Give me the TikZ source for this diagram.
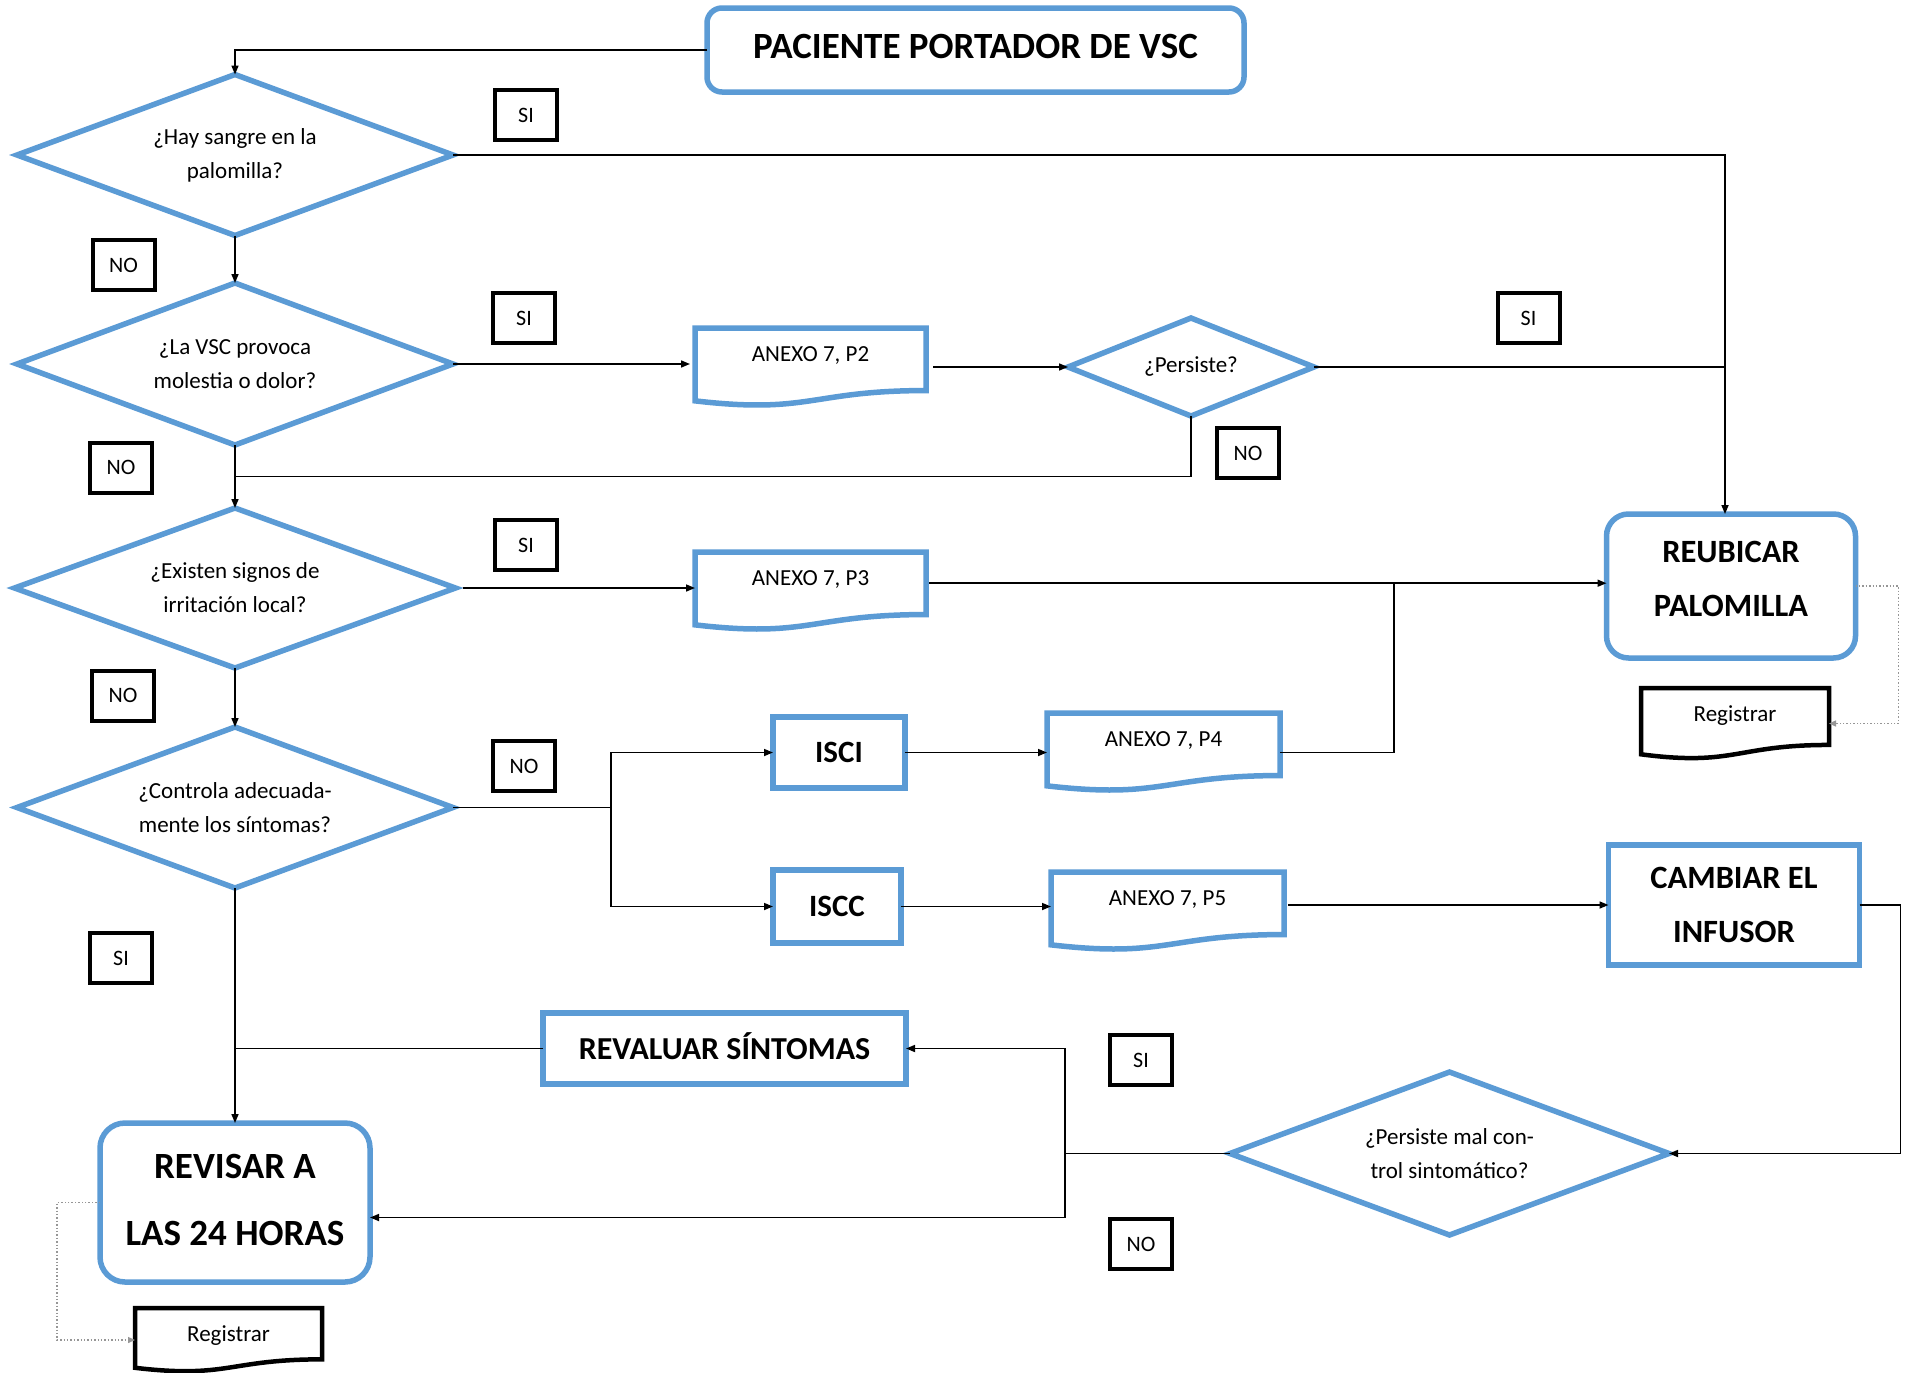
\documentclass[tikz,border=0pt]{standalone}
\usepackage{fontspec}
\setmainfont{Carlito}
\usetikzlibrary{shapes.geometric,arrows.meta,calc}
\definecolor{fblue}{RGB}{91,155,213}
\definecolor{dotgray}{RGB}{150,150,150}
\newcommand\docshape[2]{%
  \draw[#2] (#1.north west) -- (#1.north east)
    -- ($(#1.north east)!0.802!(#1.south east)$)
    .. controls ($(#1.north)!0.802!(#1.south)$) and ($(#1.north)!1.107!(#1.south)$)
    .. ($(#1.north west)!0.934!(#1.south west)$) -- cycle;}
\tikzset{
  dia/.style={shape=diamond, aspect=2.7, draw=fblue, line width=5.5pt, inner sep=0pt, outer sep=0pt,
    align=center, font=\fontsize{23}{34}\selectfont},
  pbox/.style={draw=fblue, line width=5.5pt, outer sep=0pt, inner sep=0pt, align=center,
    font=\bfseries\fontsize{32.5}{54}\selectfont},
  rbox/.style={pbox, rounded corners=22pt},
  docnode/.style={anchor=north west, inner xsep=0pt, inner ysep=0pt, outer sep=0pt,
    text height=33pt, font=\fontsize{23}{28}\selectfont},
  bluedoc/.style={draw=fblue, line width=5.5pt, line join=miter},
  blackdoc/.style={draw=black, line width=4.5pt, line join=miter},
  lbl/.style={draw=black, line width=4pt, minimum width=62pt, minimum height=50pt, inner sep=0pt,
    font=\fontsize{22}{26}\selectfont},
  conn/.style={line width=1.6pt, draw=black},
  arr/.style={conn, -{Triangle[length=9pt,width=7pt]}},
  dotarr/.style={line width=1.4pt, draw=dotgray, dotted, -{Triangle[length=7pt,width=6pt]}},
}
\begin{document}
\begin{tikzpicture}[x=1pt,y=-1pt]
\useasboundingbox[fill=white] (0,0) rectangle (1912,1373);

% main boxes
\node[rbox, rounded corners=15pt, minimum width=537pt, minimum height=84pt, text depth=8pt,
  font=\bfseries\fontsize{37}{44}\selectfont] (title) at (975.5,50) {PACIENTE PORTADOR DE VSC};
\node[rbox, minimum width=249pt, minimum height=144pt, text depth=14pt] (reub) at (1731,586) {REUBICAR\\PALOMILLA};
\node[pbox, minimum width=132pt, minimum height=71pt, font=\bfseries\fontsize{31}{36}\selectfont] (isci) at (839,752.5) {ISCI};
\node[pbox, minimum width=128pt, minimum height=73pt, font=\bfseries\fontsize{31}{36}\selectfont] (iscc) at (837,906.5) {ISCC};
\node[pbox, minimum width=251pt, minimum height=120pt] (cambiar) at (1734,905) {CAMBIAR EL\\INFUSOR};
\node[pbox, minimum width=363pt, minimum height=71pt, text depth=4pt, font=\bfseries\fontsize{32}{36}\selectfont] (reval) at (724.5,1048.5) {REVALUAR SÍNTOMAS};
\node[rbox, rounded corners=25pt, minimum width=270pt, minimum height=159pt, text depth=6pt,
  font=\bfseries\fontsize{37}{67}\selectfont] (revisar) at (235,1202.5) {REVISAR A\\LAS 24 HORAS};

% decisions
\node[dia, minimum width=436pt, minimum height=161pt] (d1) at (235,155) {¿Hay sangre en la\\palomilla?};
\node[dia, minimum width=436pt, minimum height=162pt] (d2) at (235,364) {¿La VSC provoca\\molestia o dolor?};
\node[dia, minimum width=441pt, minimum height=160pt] (d3) at (235,588) {¿Existen signos de\\irritación local?};
\node[dia, minimum width=436pt, minimum height=161pt] (d4) at (235,807.5) {¿Controla adecuada-\\mente los síntomas?};
\node[dia, aspect=2.5, minimum width=246pt, minimum height=98pt] (pers) at (1191,367) {¿Persiste?};
\node[dia, minimum width=439pt, minimum height=163pt] (d5) at (1449.5,1153.5) {¿Persiste mal con-\\trol sintomático?};

% documents
\node[docnode, minimum width=231pt, text depth=45pt] (p2) at (695,328) {ANEXO 7, P2};
\node[docnode, minimum width=231pt, text depth=45pt] (p3) at (695,552) {ANEXO 7, P3};
\node[docnode, minimum width=233pt, text depth=45pt] (p4) at (1047,713) {ANEXO 7, P4};
\node[docnode, minimum width=233pt, text depth=45pt] (p5) at (1051,872) {ANEXO 7, P5};
\node[docnode, minimum width=188pt, text depth=38pt] (reg1) at (1641,688) {Registrar};
\node[docnode, minimum width=187pt, text depth=31pt] (reg2) at (135,1308) {Registrar};
\docshape{p2}{bluedoc}
\docshape{p3}{bluedoc}
\docshape{p4}{bluedoc}
\docshape{p5}{bluedoc}
\docshape{reg1}{blackdoc}
\docshape{reg2}{blackdoc}

% answer labels
\node[lbl] (si1) at (526,115) {SI};
\node[lbl] (no1) at (123.5,265) {NO};
\node[lbl] (si2) at (524,318) {SI};
\node[lbl] (no2) at (121,467.5) {NO};
\node[lbl] (si3) at (526,545) {SI};
\node[lbl] (no3) at (123,695.5) {NO};
\node[lbl] (no4) at (524,766) {NO};
\node[lbl] (si4) at (121,958) {SI};
\node[lbl] (si5) at (1528.5,318) {SI};
\node[lbl] (no5) at (1248,453) {NO};
\node[lbl] (si6) at (1141,1060) {SI};
\node[lbl] (no6) at (1141,1244) {NO};

% connectors
\coordinate (rx) at (1725,0);
\draw[arr] (title.west) -| (d1.north);
\draw[arr] (d1.south) -- (d2.north);
\draw[arr] (d1.east) -| (rx |- reub.north);
\draw[arr, shorten >=5pt] (d2.east) -- (d2.east -| p2.west);
\draw[arr, shorten <=7pt] (pers.west -| p2.east) -- (pers.west);
\draw[conn] (pers.east) -- (rx |- pers.east);
\coordinate (m23) at ($(d2.south)!0.5!(d3.north)$);
\draw[conn] (pers.south) |- (m23);
\draw[arr] (d2.south) -- (d3.north);
\draw[arr, shorten <=7pt] (d3.east) -- (d3.east -| p3.west);
\coordinate (p3r) at ($(p3.north east)!0.4!(p3.south east)$);
\draw[arr, shorten <=3pt] (p3r) -- (p3r -| reub.west);
\coordinate (jx) at (1394,0);
\draw[conn] (isci.east -| p4.east) -| (jx |- p3r);
\draw[arr] (d3.south) -- (d4.north);
\coordinate (jy) at (611,0);
\coordinate (split) at (jy |- d4.east);
\draw[conn] (d4.east) -- (split);
\draw[arr] (split) |- (isci.west);
\draw[arr] (split) |- (iscc.west);
\draw[arr] (isci.east) -- (isci.east -| p4.west);
\draw[arr] (iscc.east) -- (iscc.east -| p5.west);
\draw[arr, shorten <=4pt] (cambiar.west -| p5.east) -- (cambiar.west);
\draw[arr] (cambiar.east) -- ++(41,0) |- (d5.east);
\coordinate (kx) at (1065,0);
\coordinate (back) at (kx |- d5.west);
\draw[conn] (d5.west) -- (back);
\draw[arr] (back) |- (reval.east);
\draw[arr] (back) |- ([yshift=-15pt]revisar.east);
\draw[conn] (reval.west) -- (reval.west -| d4.south);
\draw[arr] (d4.south) -- (revisar.north);
\draw[dotarr] (reub.east) -- ++(43,0) |- (reg1.east);
\draw[dotarr] (revisar.west) -- ++(-43,0) |- (reg2.west);
\end{tikzpicture}
\end{document}
